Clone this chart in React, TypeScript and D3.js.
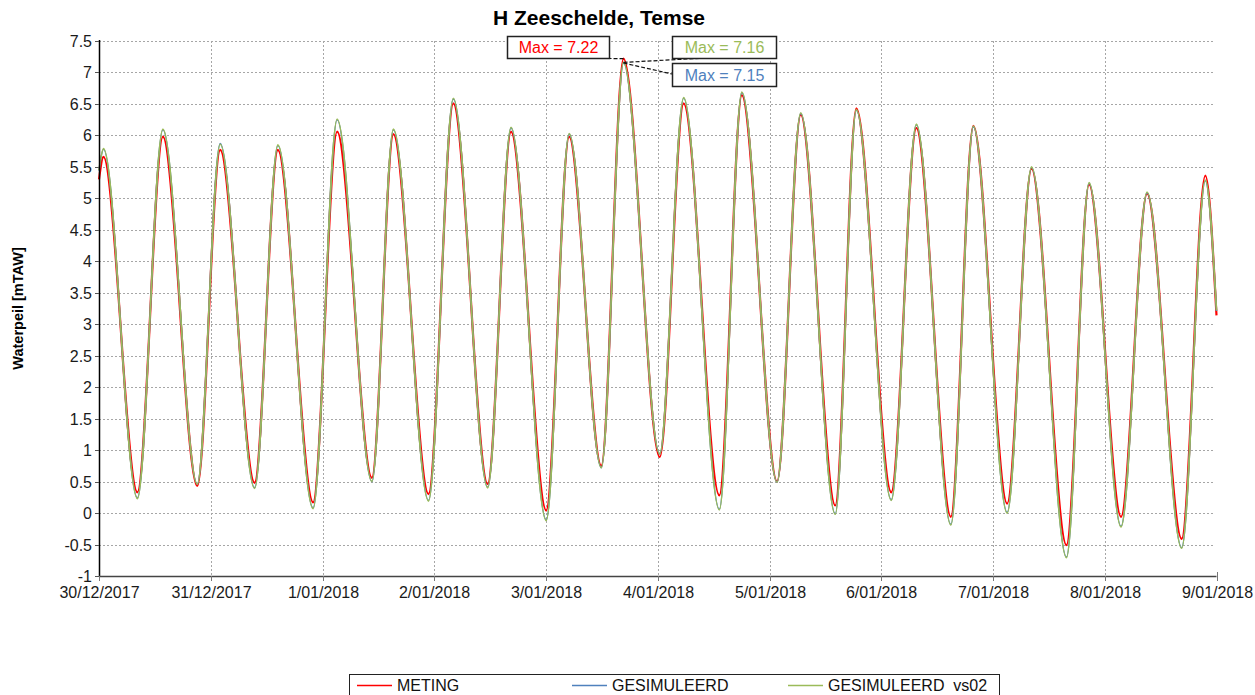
import React from 'react';
import * as d3 from 'd3';

// hours since 30/12/2017 00:00 for each high / low water (plus first and last sample)
const tideHours = [
  0, 0.97, 8.25, 13.72, 21.11, 26.03, 33.42, 38.42, 45.98, 51.14, 58.61,
  63.23, 70.77, 76.1, 83.48, 88.49, 96.05, 100.97, 107.88, 112.65, 120.43,
  125.56, 133.23, 138.06, 145.62, 150.71, 158.12, 162.65, 170.15, 175.54, 182.95,
  187.78, 195.04, 200.28, 207.78, 212.63, 219.5, 225.09, 232.52, 237.6, 240,
];

const meting = [
  5.3, 5.66, 0.33, 5.98, 0.43, 5.77, 0.48, 5.77, 0.17, 6.06, 0.56,
  6.02, 0.3, 6.51, 0.46, 6.06, 0.04, 5.98, 0.75, 7.22, 0.89,
  6.51, 0.28, 6.64, 0.5, 6.33, 0.12, 6.43, 0.33, 6.12, -0.06,
  6.15, 0.15, 5.47, -0.51, 5.22, -0.06, 5.08, -0.41, 5.36, 3.14,
];

const gesimuleerd = [
  5.44, 5.78, 0.24, 6.09, 0.46, 5.87, 0.4, 5.84, 0.08, 6.25, 0.5,
  6.09, 0.2, 6.58, 0.41, 6.12, -0.11, 6.02, 0.72, 7.15, 0.94,
  6.59, 0.06, 6.68, 0.49, 6.35, -0.01, 6.4, 0.21, 6.17, -0.18,
  6.14, 0.01, 5.49, -0.7, 5.24, -0.21, 5.09, -0.55, 5.28, 3.21,
];

const gesimuleerdVs02 = [
  5.45, 5.79, 0.23, 6.1, 0.46, 5.86, 0.39, 5.85, 0.07, 6.26, 0.5,
  6.1, 0.19, 6.59, 0.4, 6.13, -0.12, 6.03, 0.72, 7.16, 0.94,
  6.6, 0.05, 6.69, 0.49, 6.36, -0.02, 6.41, 0.2, 6.18, -0.19,
  6.15, 0.0, 5.5, -0.71, 5.25, -0.22, 5.1, -0.56, 5.29, 3.22,
];

const dayLabels = [
  '30/12/2017', '31/12/2017', '1/01/2018', '2/01/2018', '3/01/2018', '4/01/2018',
  '5/01/2018', '6/01/2018', '7/01/2018', '8/01/2018', '9/01/2018',
];

const yTickValues = [-1, -0.5, 0, 0.5, 1, 1.5, 2, 2.5, 3, 3.5, 4, 4.5, 5, 5.5, 6, 6.5, 7, 7.5];

const seriesNames = ['METING', 'GESIMULEERD', 'GESIMULEERD  vs02'];
const seriesColors = ['#ff0000', '#4f81bd', '#9bbb59'];

const FONT = '"Liberation Sans", Arial, sans-serif';

class App extends React.Component {
  svgRef: React.RefObject<SVGSVGElement | null>;

  constructor(props: any) {
    super(props);
    this.svgRef = React.createRef();
  }

  componentDidMount() {
    document.body.style.margin = '0';
    this.drawChart();
  }

  componentDidUpdate() {
    this.drawChart();
  }

  drawChart() {
    const width = 1255;
    const height = 695;
    const left = 99;
    const right = 1216.5;
    const top = 41;
    const bottom = 576;

    const svg = d3.select(this.svgRef.current)
      .attr('width', width)
      .attr('height', height);

    svg.selectAll('*').remove();

    svg.append('rect')
      .attr('width', width)
      .attr('height', height)
      .attr('fill', '#fff');

    const x = d3.scaleLinear().domain([0, 240]).range([left, right]);
    const y = d3.scaleLinear().domain([-1, 7.5]).range([bottom, top]);

    // Title
    svg.append('text')
      .attr('x', 599)
      .attr('y', 25)
      .attr('text-anchor', 'middle')
      .attr('font-family', FONT)
      .attr('font-weight', 'bold')
      .attr('font-size', '21px')
      .attr('fill', '#000')
      .text('H Zeeschelde, Temse');

    // Grid
    const grid = svg.append('g')
      .attr('stroke', '#a6a6a6')
      .attr('stroke-width', 1)
      .attr('stroke-dasharray', '2,2');

    grid.selectAll('line.h')
      .data(yTickValues.filter(v => v > -1))
      .enter()
      .append('line')
      .attr('x1', left)
      .attr('x2', right - 2)
      .attr('y1', d => Math.round(y(d)) + 0.5)
      .attr('y2', d => Math.round(y(d)) + 0.5);

    grid.selectAll('line.v')
      .data(d3.range(1, dayLabels.length - 1))
      .enter()
      .append('line')
      .attr('x1', d => Math.round(x(d * 24)) + 0.5)
      .attr('x2', d => Math.round(x(d * 24)) + 0.5)
      .attr('y1', top)
      .attr('y2', bottom);

    // Series (red under the simulations)
    const line = d3.line<number>()
      .x((_, i) => x(tideHours[i]))
      .y(d => y(d))
      .curve(d3.curveMonotoneX);

    const plot = svg.append('g');
    const seriesData = [meting, gesimuleerd, gesimuleerdVs02];
    const widths = [2.2, 1.6, 1.6];
    seriesData.forEach((values, k) => {
      plot.append('path')
        .attr('d', line(values))
        .attr('fill', 'none')
        .attr('stroke', seriesColors[k])
        .attr('stroke-width', widths[k])
        .attr('stroke-linejoin', 'round');
    });

    // Axes
    svg.append('line')
      .attr('x1', left + 0.5).attr('x2', left + 0.5)
      .attr('y1', top - 1).attr('y2', bottom)
      .attr('stroke', '#000').attr('stroke-width', 1.5);

    svg.append('line')
      .attr('x1', left).attr('x2', right)
      .attr('y1', bottom + 0.5).attr('y2', bottom + 0.5)
      .attr('stroke', '#444').attr('stroke-width', 1.5);

    const yAxis = svg.append('g');
    yTickValues.forEach(v => {
      const py = Math.round(y(v)) + 0.5;
      yAxis.append('line')
        .attr('x1', left - 4).attr('x2', left)
        .attr('y1', py).attr('y2', py)
        .attr('stroke', '#555');
      yAxis.append('text')
        .attr('x', left - 7)
        .attr('y', py)
        .attr('dy', '0.36em')
        .attr('text-anchor', 'end')
        .attr('font-family', FONT)
        .attr('font-size', '16px')
        .attr('fill', '#1a1a1a')
        .text(String(v));
    });

    const xAxis = svg.append('g');
    dayLabels.forEach((label, i) => {
      const px = Math.round(x(i * 24)) + 0.5;
      xAxis.append('line')
        .attr('x1', px).attr('x2', px)
        .attr('y1', bottom - (i === dayLabels.length - 1 ? 4 : 0)).attr('y2', bottom + 5)
        .attr('stroke', '#777');
      xAxis.append('text')
        .attr('x', px)
        .attr('y', bottom + 22)
        .attr('text-anchor', 'middle')
        .attr('font-family', FONT)
        .attr('font-size', '16px')
        .attr('fill', '#1a1a1a')
        .text(label);
    });

    // Y label
    svg.append('text')
      .attr('transform', `translate(23, ${(top + bottom) / 2}) rotate(-90)`)
      .attr('text-anchor', 'middle')
      .attr('font-family', FONT)
      .attr('font-weight', 'bold')
      .attr('font-size', '14.5px')
      .attr('fill', '#000')
      .text('Waterpeil [mTAW]');

    // Max annotations: red box left, green box top right, blue box below it
    const boxes = [
      { x: 507, y: 36, w: 102, h: 22, ax: 558, ay: 58 },
      { x: 672, y: 63, w: 104, h: 23, ax: 672, ay: 74 },
      { x: 672, y: 36, w: 104, h: 22, ax: 724, ay: 57 },
    ];
    const ann = svg.append('g');
    seriesData.forEach((values, k) => {
      const maxVal = d3.max(values) as number;
      const idx = values.indexOf(maxVal);
      const px = x(tideHours[idx]);
      const py = y(maxVal);
      const b = boxes[k];
      ann.append('line')
        .attr('x1', px).attr('y1', py)
        .attr('x2', b.ax).attr('y2', b.ay)
        .attr('stroke', '#111')
        .attr('stroke-width', 1.2)
        .attr('stroke-dasharray', '4,2');
    });
    seriesData.forEach((values, k) => {
      const maxVal = d3.max(values) as number;
      const b = boxes[k];
      ann.append('rect')
        .attr('x', b.x + 0.5).attr('y', b.y + 0.5)
        .attr('width', b.w).attr('height', b.h)
        .attr('fill', '#fff')
        .attr('stroke', '#222')
        .attr('stroke-width', 1.5);
      ann.append('text')
        .attr('x', b.x + b.w / 2 + 0.5)
        .attr('y', b.y + b.h / 2 + 0.5)
        .attr('dy', '0.36em')
        .attr('text-anchor', 'middle')
        .attr('font-family', FONT)
        .attr('font-size', '16px')
        .attr('fill', seriesColors[k])
        .text(`Max = ${maxVal.toFixed(2)}`);
    });

    // Legend
    const legend = svg.append('g');
    legend.append('rect')
      .attr('x', 349.5).attr('y', 674.5)
      .attr('width', 650).attr('height', 40)
      .attr('fill', '#fff')
      .attr('stroke', '#222')
      .attr('stroke-width', 1);
    const legendX = [357, 572, 788];
    seriesNames.forEach((name, k) => {
      legend.append('line')
        .attr('x1', legendX[k]).attr('x2', legendX[k] + 35)
        .attr('y1', 685.5).attr('y2', 685.5)
        .attr('stroke', seriesColors[k])
        .attr('stroke-width', 1.5);
      legend.append('text')
        .attr('x', legendX[k] + 40)
        .attr('y', 691)
        .attr('font-family', FONT)
        .attr('font-size', '16px')
        .attr('fill', '#111')
        .style('white-space', 'pre')
        .text(name);
    });
  }

  render() {
    return <svg ref={this.svgRef} style={{ display: 'block' }} />;
  }
}

export default App;
